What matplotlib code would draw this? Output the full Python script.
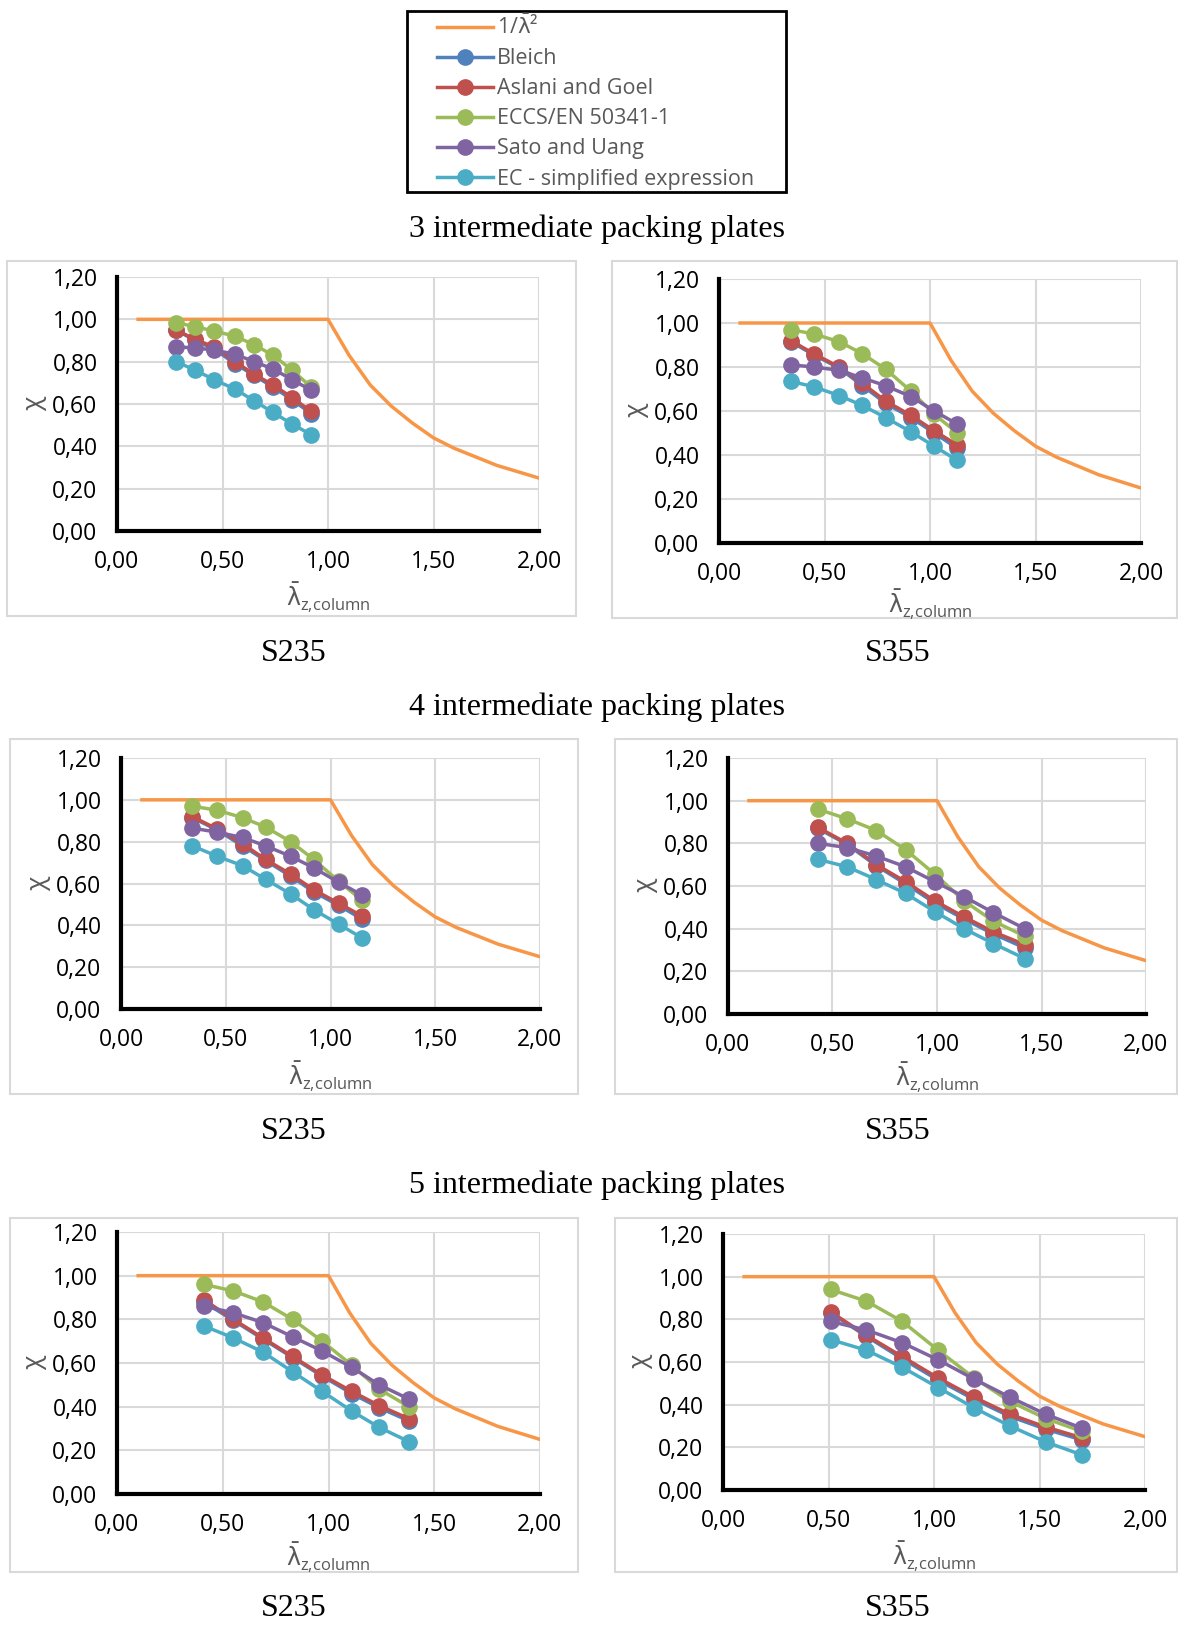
import matplotlib
matplotlib.use('Agg')
import matplotlib.pyplot as plt
from matplotlib.patches import Rectangle
from matplotlib.lines import Line2D
from matplotlib.ticker import FuncFormatter

plt.rcParams['font.family'] = ['Open Sans', 'DejaVu Sans']
plt.rcParams['mathtext.fontset'] = 'dejavusans'

# reference curve 1/lambda^2 (capped at 1)
lamCurve = [0.1, 0.2, 0.3, 0.4, 0.5, 0.6, 0.7, 0.8, 0.9, 1.0,
            1.1, 1.2, 1.3, 1.4, 1.5, 1.6, 1.7, 1.8, 1.9, 2.0]
chiCurve = [1.0, 1.0, 1.0, 1.0, 1.0, 1.0, 1.0, 1.0, 1.0, 1.0,
            0.83, 0.69, 0.59, 0.51, 0.44, 0.39, 0.35, 0.31, 0.28, 0.25]

seriesNames = ['Bleich', 'Aslani and Goel', 'ECCS/EN 50341-1', 'Sato and Uang', 'EC - simplified expression']
seriesColors = ['#4F81BD', '#C0504D', '#9BBB59', '#8064A2', '#4BACC6']
curveName = r'1/$\mathrm{\bar{\lambda}}$²'
curveColor = '#F79646'

# 3 packing plates, S235
x3_235 = [0.28, 0.37, 0.46, 0.56, 0.65, 0.74, 0.83, 0.92]
bleich3_235 = [0.95, 0.90, 0.86, 0.79, 0.735, 0.68, 0.62, 0.555]
aslani3_235 = [0.95, 0.905, 0.87, 0.80, 0.74, 0.69, 0.63, 0.565]
eccs3_235 = [0.985, 0.965, 0.945, 0.92, 0.88, 0.83, 0.76, 0.68]
sato3_235 = [0.87, 0.865, 0.855, 0.835, 0.80, 0.765, 0.715, 0.665]
ec3_235 = [0.80, 0.76, 0.715, 0.67, 0.615, 0.56, 0.505, 0.455]

# 3 packing plates, S355
x3_355 = [0.34, 0.45, 0.57, 0.68, 0.79, 0.91, 1.02, 1.13]
bleich3_355 = [0.915, 0.855, 0.795, 0.715, 0.635, 0.57, 0.50, 0.43]
aslani3_355 = [0.92, 0.86, 0.80, 0.725, 0.645, 0.58, 0.51, 0.445]
eccs3_355 = [0.97, 0.95, 0.915, 0.86, 0.79, 0.69, 0.585, 0.50]
sato3_355 = [0.81, 0.80, 0.785, 0.75, 0.715, 0.665, 0.60, 0.54]
ec3_355 = [0.735, 0.71, 0.67, 0.625, 0.57, 0.505, 0.44, 0.375]

# 4 packing plates, S235
x4_235 = [0.34, 0.46, 0.58, 0.69, 0.81, 0.92, 1.04, 1.15]
bleich4_235 = [0.915, 0.855, 0.78, 0.71, 0.635, 0.56, 0.495, 0.43]
aslani4_235 = [0.92, 0.86, 0.79, 0.715, 0.645, 0.57, 0.505, 0.445]
eccs4_235 = [0.97, 0.95, 0.915, 0.87, 0.80, 0.715, 0.61, 0.52]
sato4_235 = [0.865, 0.845, 0.82, 0.78, 0.73, 0.675, 0.605, 0.545]
ec4_235 = [0.78, 0.73, 0.685, 0.62, 0.55, 0.475, 0.405, 0.34]

# 4 packing plates, S355
x4_355 = [0.43, 0.57, 0.71, 0.85, 0.99, 1.13, 1.27, 1.42]
bleich4_355 = [0.87, 0.795, 0.695, 0.61, 0.52, 0.445, 0.375, 0.31]
aslani4_355 = [0.875, 0.80, 0.70, 0.62, 0.53, 0.455, 0.385, 0.325]
eccs4_355 = [0.96, 0.915, 0.86, 0.77, 0.655, 0.53, 0.435, 0.365]
sato4_355 = [0.80, 0.78, 0.74, 0.69, 0.62, 0.55, 0.475, 0.40]
ec4_355 = [0.725, 0.69, 0.63, 0.565, 0.48, 0.40, 0.33, 0.26]

# 5 packing plates, S235
x5_235 = [0.41, 0.55, 0.69, 0.83, 0.97, 1.11, 1.24, 1.38]
bleich5_235 = [0.88, 0.795, 0.71, 0.625, 0.54, 0.46, 0.395, 0.335]
aslani5_235 = [0.89, 0.80, 0.715, 0.63, 0.545, 0.47, 0.405, 0.345]
eccs5_235 = [0.96, 0.93, 0.88, 0.80, 0.70, 0.59, 0.48, 0.40]
sato5_235 = [0.86, 0.83, 0.785, 0.72, 0.655, 0.58, 0.50, 0.435]
ec5_235 = [0.77, 0.715, 0.65, 0.56, 0.47, 0.38, 0.305, 0.24]

# 5 packing plates, S355
x5_355 = [0.51, 0.68, 0.85, 1.02, 1.19, 1.36, 1.53, 1.70]
bleich5_355 = [0.83, 0.72, 0.615, 0.515, 0.425, 0.345, 0.285, 0.235]
aslani5_355 = [0.835, 0.725, 0.625, 0.525, 0.435, 0.355, 0.295, 0.245]
eccs5_355 = [0.94, 0.885, 0.79, 0.655, 0.525, 0.415, 0.335, 0.275]
sato5_355 = [0.79, 0.75, 0.69, 0.61, 0.52, 0.435, 0.355, 0.29]
ec5_355 = [0.705, 0.655, 0.575, 0.48, 0.385, 0.30, 0.225, 0.165]

rowTitles = ['3 intermediate packing plates', '4 intermediate packing plates', '5 intermediate packing plates']
steelGrades = ['S235', 'S355']
xLabel = r'$\mathrm{\bar{\lambda}}_{\mathregular{z{,}column}}$'

W, H = 1178, 1626
fig = plt.figure(figsize=(W / 100, H / 100), dpi=100)

def pxBox(x0, y0, x1, y1):
    return [x0 / W, 1 - y1 / H, (x1 - x0) / W, (y1 - y0) / H]

def addFrame(x0, y0, x1, y1, color, lw):
    fig.patches.append(Rectangle((x0 / W, 1 - y1 / H), (x1 - x0) / W, (y1 - y0) / H,
                                 transform=fig.transFigure, fill=False,
                                 edgecolor=color, linewidth=lw))

def commaFmt(v, pos):
    return ('%.2f' % v).replace('.', ',')

def drawPanel(axRect, boxRect, labelY, x, ys):
    addFrame(*boxRect, color='#D9D9D9', lw=1.5)
    ax = fig.add_axes(pxBox(*axRect))
    ax.plot(lamCurve, chiCurve, color=curveColor, lw=2.5, zorder=3)
    for y, c in zip(ys, seriesColors):
        ax.plot(x, y, '-o', color=c, lw=2.5, markersize=11, zorder=4)
    ax.set_xlim(0, 2.0)
    ax.set_ylim(0, 1.2)
    ax.set_xticks([0, 0.5, 1.0, 1.5, 2.0])
    ax.set_yticks([0, 0.2, 0.4, 0.6, 0.8, 1.0, 1.2])
    ax.xaxis.set_major_formatter(FuncFormatter(commaFmt))
    ax.yaxis.set_major_formatter(FuncFormatter(commaFmt))
    ax.grid(True, color='#D9D9D9', lw=1.5, zorder=0)
    ax.set_axisbelow(True)
    for s in ['top', 'right']:
        ax.spines[s].set_visible(False)
    for s in ['left', 'bottom']:
        ax.spines[s].set_linewidth(3)
        ax.spines[s].set_color('black')
        ax.spines[s].set_zorder(5)
    ax.tick_params(length=0, labelsize=16.5, labelcolor='black')
    ax.tick_params(axis='x', pad=14)
    ax.tick_params(axis='y', pad=14)
    ax.set_ylabel('χ', fontsize=19, color='#595959', labelpad=4)
    fig.text((axRect[0] + axRect[2]) / 2 / W, 1 - labelY / H, xLabel,
             ha='center', va='center', fontsize=17, color='#595959')
    return ax

panels = [
    ((117, 277, 539, 531), (7, 261, 576, 616), 597, x3_235, [bleich3_235, aslani3_235, eccs3_235, sato3_235, ec3_235]),
    ((719, 279, 1141, 543), (612, 261, 1177, 618), 604, x3_355, [bleich3_355, aslani3_355, eccs3_355, sato3_355, ec3_355]),
    ((121, 758, 540, 1009), (10, 739, 578, 1094), 1076, x4_235, [bleich4_235, aslani4_235, eccs4_235, sato4_235, ec4_235]),
    ((728, 758, 1146, 1014), (615, 739, 1177, 1094), 1077, x4_355, [bleich4_355, aslani4_355, eccs4_355, sato4_355, ec4_355]),
    ((117, 1232, 540, 1494), (10, 1218, 578, 1572), 1557, x5_235, [bleich5_235, aslani5_235, eccs5_235, sato5_235, ec5_235]),
    ((723, 1234, 1145, 1490), (615, 1218, 1177, 1572), 1556, x5_355, [bleich5_355, aslani5_355, eccs5_355, sato5_355, ec5_355]),
]

for axRect, boxRect, labelY, x, ys in panels:
    drawPanel(axRect, boxRect, labelY, x, ys)

serif = ['Liberation Serif', 'DejaVu Serif']
titleY = [229, 707, 1185]
gradeY = [653, 1131, 1608]
for t, ty, gy in zip(rowTitles, titleY, gradeY):
    fig.text(597 / W, 1 - ty / H, t, ha='center', va='center', fontsize=23, family=serif)
    fig.text(294 / W, 1 - gy / H, steelGrades[0], ha='center', va='center', fontsize=23, family=serif)
    fig.text(898 / W, 1 - gy / H, steelGrades[1], ha='center', va='center', fontsize=23, family=serif)

# legend: frame drawn separately to get the wide side padding
handles = [Line2D([], [], color=curveColor, lw=2.5)]
handles += [Line2D([], [], color=c, lw=2.5, marker='o', markersize=11) for c in seriesColors]
labels = [curveName] + seriesNames
leg = fig.legend(handles, labels, loc='upper left', bbox_to_anchor=(437 / W, 1 - 15 / H),
                 frameon=False, fontsize=15.5, handlelength=2.6, handletextpad=0.2,
                 labelspacing=0.42, borderpad=0, borderaxespad=0)
for txt in leg.get_texts():
    txt.set_color('#595959')
addFrame(407, 11, 786, 192, color='black', lw=2)

plt.savefig('out.png', dpi=100)
